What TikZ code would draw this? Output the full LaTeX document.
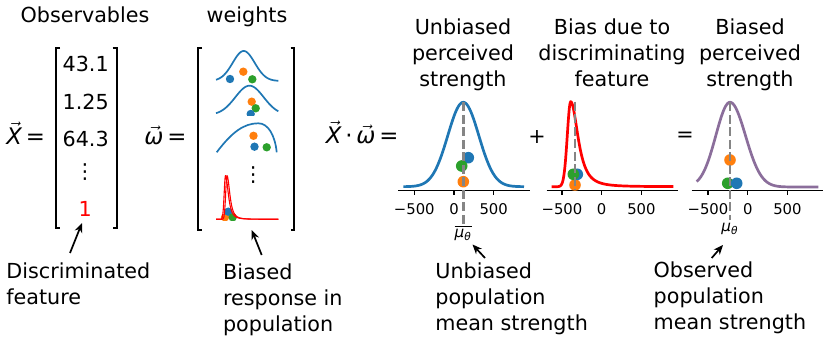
\documentclass[tikz,border=0pt]{standalone}
\usepackage{fontspec}
\setmainfont{DejaVu Sans}
\usetikzlibrary{arrows.meta}
\definecolor{tblue}{HTML}{1F77B4}
\definecolor{torange}{HTML}{FF7F0E}
\definecolor{tgreen}{HTML}{2CA02C}
\definecolor{tred}{HTML}{FF0000}
\definecolor{tpurple}{HTML}{8B6E9B}
\definecolor{dgray}{HTML}{858585}
\begin{document}
\begin{tikzpicture}[x=0.5pt,y=-0.5pt,
  txt/.style={font=\fontsize{10.35}{13.1}\selectfont, inner sep=0pt},
  eqn/.style={font=\fontsize{11.4}{13}\selectfont, inner sep=0pt, anchor=base west},
  ticklab/.style={font=\fontsize{7.4}{9}\selectfont, inner sep=0pt, anchor=base},
  mulab/.style={font=\fontsize{7.6}{9}\selectfont, inner sep=0pt},
  brk/.style={line width=0.85pt, line join=miter},
  axisline/.style={line width=0.65pt},
  tickmark/.style={line width=0.6pt},
  bigcurve/.style={line width=1.35pt},
  wcurve/.style={line width=0.85pt, tblue},
  rcurve/.style={line width=0.55pt, tred},
  meanline/.style={dgray, line width=1.35pt, dash pattern=on 4.5pt off 1.75pt},
  arr/.style={line width=0.85pt, -{Stealth[length=4.8pt,width=4pt]}}
]
\useasboundingbox (0,0) rectangle (830,346);

% ---------- headers ----------
\node[txt, anchor=base] (obs) at (85,23) {Observables};
\node[txt, anchor=base] (wts) at (247,23) {weights};

% ---------- X vector ----------
\node[eqn] (xeq) at (6,145) {$\vec{\mbox{\itshape X}}$\,=};
\draw[brk] (60,47.7) -| (55.7,228.3) -- (60,228.3);
\draw[brk] (112.5,47.7) -| (116.8,228.3) -- (112.5,228.3);
\node[txt, anchor=base] (n1) at (85.7,71.7) {43.1};
\node[txt, anchor=base] (n2) at (85.7,109.3) {1.25};
\node[txt, anchor=base] (n3) at (85.7,146.7) {64.3};
\node[txt] (vd1) at (85,172.5) {⋮};
\node[txt, anchor=base, text=tred] (n4) at (85.3,216.7) {1};

% ---------- omega vector ----------
\node[eqn] (weq) at (144,145) {$\vec{\mbox{\itshape ω}}$\,=};
\draw[brk] (202,47.7) -| (198.3,230) -- (202,230);
\draw[brk] (290.5,47.7) -| (294.2,230) -- (290.5,230);

% weight curve 1
\draw[wcurve] plot[domain=216:278.3,samples=80] (\x,{81-30*exp(-0.5*((\x-243.7)/11)^2)});
\fill[tblue] (230,79) circle[radius=4.2];
\fill[torange] (243.3,71.7) circle[radius=4.2];
\fill[tgreen] (252.3,79.3) circle[radius=4.2];
% weight curve 2
\draw[wcurve] plot[domain=216:278.3,samples=80] (\x,{115-29.3*exp(-0.5*((\x-249.5)/14.2)^2)});
\fill[torange] (251.7,101.7) circle[radius=4.2];
\fill[tgreen] (255.7,108.3) circle[radius=4.2];
\begin{scope}
  \clip (240,100) rectangle (262,115.5);
  \fill[tblue] (250.7,114) circle[radius=4.2];
\end{scope}
% weight curve 3
\draw[wcurve] (216.7,152.3) .. controls (232,132) and (244,123.3) .. (258.3,123.3)
  .. controls (268,123.3) and (275,135) .. (276.7,152.3);
\fill[torange] (253.5,135.8) circle[radius=4.2];
\fill[tblue] (254.5,146.7) circle[radius=4.2];
\fill[tgreen] (266.7,147.3) circle[radius=4.2];
\node[txt] (vd2) at (253.3,175.5) {⋮};
% weight curve 4 (red)
\begin{scope}
  \clip (215,200) rectangle (240,220.5);
  \fill[torange] (225,217.3) circle[radius=4.2];
  \fill[tblue] (228.3,211.7) circle[radius=4.2];
  \fill[tgreen] (232.7,217.3) circle[radius=4.2];
\end{scope}
\foreach \o in {225.5,227}{
  \draw[rcurve] plot[domain=216:\o,samples=30] (\x,{219.3-43.6*exp(-0.5*((\x-\o)/1.3)^2)})
    -- plot[domain=\o:278.3,samples=90] (\x,{219.3-43.6*(1+((\x-\o)/4.3)^2)^(-1.5)});
}

% ---------- right equation ----------
\node[eqn] (xweq) at (325.5,144) {$\vec{\mbox{\itshape X}}$\,·\,$\vec{\mbox{\itshape ω}}$\,=};
\node[txt] (plus) at (537,137) {+};
\node[txt] (eqs) at (685,137) {=};

% titles (anchor base = baseline of last line)
\node[txt, anchor=base, align=center] (t1) at (463,86.5) {Unbiased\\perceived\\strength};
\node[txt, anchor=base, align=center] (t2) at (612,86.5) {Bias due to\\discriminating\\feature};
\node[txt, anchor=base, align=center] (t3) at (750,86.5) {Biased\\perceived\\strength};

% axes
\foreach \zx/\ax/\bx/\nm in {454/398.3/530/pa, 601.7/546.7/678.3/pb, 747.7/691.7/823.3/pc}{
  \draw[axisline] (\ax,190.5) -- (\bx,190.5);
  \foreach \dx/\lab/\k in {-39.7/−500/m, 0/0/z, 39.7/500/p}{
    \draw[tickmark] (\zx+\dx,190.5) -- (\zx+\dx,195);
    \node[ticklab] (\nm\k) at (\zx+\dx,215) {\lab};
  }
}

% panel 1 (blue)
\draw[bigcurve,tblue] plot[domain=403.3:524,samples=150] (\x,{186.7-84.4*exp(-0.5*((\x-463.3)/15.5)^2)});
\fill[tblue] (468.3,157.7) circle[radius=5.8];
\fill[tgreen] (461.7,166) circle[radius=5.8];
\fill[torange] (463.3,181.7) circle[radius=5.8];
\draw[meanline] (463.3,102.3) -- (463.3,224);
\node[mulab] (mu1) at (463.3,233) {$\overline{\mbox{\itshape μ\textsubscript{θ}}}$};

% panel 2 (red)
\draw[bigcurve,tred] plot[domain=551.7:570.7,samples=40] (\x,{186.7-85*exp(-0.5*((\x-570.7)/3.4)^2)})
  -- plot[domain=570.7:673.3,samples=150] (\x,{186.7-85*(1+((\x-570.7)/11.2)^2)^(-1.5)});
\fill[torange] (575,185) circle[radius=5.8];
\fill[tblue] (577.3,174.3) circle[radius=5.8];
\fill[tgreen] (573.3,174.3) circle[radius=5.8];
\draw[meanline] (575,101.7) -- (575,190);

% panel 3 (purple)
\draw[bigcurve,tpurple] plot[domain=696.7:730,samples=60] (\x,{187-84.7*exp(-0.5*((\x-730)/14.2)^2)})
  -- plot[domain=730:818.3,samples=120] (\x,{187-84.7*exp(-0.5*((\x-730)/15.5)^2)});
\fill[torange] (730,160) circle[radius=5.8];
\fill[tgreen] (727.7,183.3) circle[radius=5.8];
\fill[tblue] (736.7,183.3) circle[radius=5.8];
\draw[meanline] (730,102.3) -- (730,220);
\node[mulab] (mu3) at (730,229) {\itshape μ\textsubscript{θ}};

% ---------- bottom annotations (anchor base = baseline of last line) ----------
\node[txt, anchor=base west, align=left] (b1) at (6,305) {Discriminated\\feature};
\node[txt, anchor=base west, align=left] (b2) at (222.7,331.5) {Biased\\response in\\population};
\node[txt, anchor=base west, align=left] (b3) at (435,331) {Unbiased\\population\\mean strength};
\node[txt, anchor=base west, align=left] (b4) at (653.3,330) {Observed\\population\\mean strength};

\coordinate (a1t) at (70,253);   \coordinate (a1h) at (82,223);
\coordinate (a2t) at (261.7,255); \coordinate (a2h) at (251.7,230);
\coordinate (a3t) at (485,258);  \coordinate (a3h) at (472.5,244.5);
\coordinate (a4t) at (711.7,258); \coordinate (a4h) at (723,245);
\draw[arr] (a1t) -- (a1h);
\draw[arr] (a2t) -- (a2h);
\draw[arr] (a3t) -- (a3h);
\draw[arr] (a4t) -- (a4h);
\end{tikzpicture}
\end{document}
